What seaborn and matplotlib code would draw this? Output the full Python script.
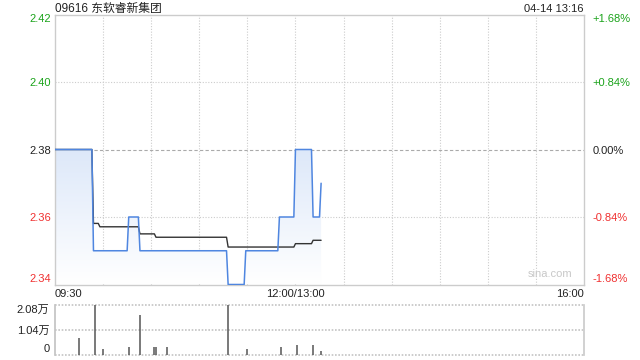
import numpy as np
import pandas as pd
import matplotlib
matplotlib.use("Agg")
import matplotlib.pyplot as plt
from matplotlib.colors import LinearSegmentedColormap
import seaborn as sns

# ---------------- data ----------------
title = "09616 东软睿新集团"
stamp = "04-14 13:16"
prev_close = 2.38

# minutes since 09:30 on a compressed axis (lunch 12:00-13:00 removed, 330 min total)
price_min = [0, 23, 24, 45, 46, 52, 53, 107, 108, 118, 119, 139, 140, 149, 150, 160, 161, 165, 166]
price_val = [2.38, 2.38, 2.35, 2.35, 2.36, 2.36, 2.35, 2.35, 2.34, 2.34, 2.35, 2.35,
             2.36, 2.36, 2.38, 2.38, 2.36, 2.36, 2.37]

avg_min = [0, 23, 24, 27, 28, 52, 53, 62, 63, 107, 108, 149, 150, 160, 161, 166]
avg_val = [2.38, 2.38, 2.3581, 2.3581, 2.3571, 2.3571, 2.3550, 2.3550, 2.3540, 2.3540,
           2.3511, 2.3511, 2.3521, 2.3521, 2.3531, 2.3531]

vol_min = [15, 25, 30, 46, 53, 62, 63, 70, 108, 120, 141, 151, 161, 166]
vol_val = [6900, 20800, 2250, 3100, 16700, 3100, 3100, 3100, 20800, 2250, 3100, 3950, 3950, 1400]

price_ticks = [2.34, 2.36, 2.38, 2.40, 2.42]
x_tick_pos = [0, 150, 330]
x_tick_labels = ["09:30", "12:00/13:00", "16:00"]
vol_ticks = [0, 10400, 20800]
vol_tick_labels = ["0", "1.04万", "2.08万"]

# ---------------- style ----------------
sns.set_theme(style="white")
plt.rcParams['font.family'] = ['Liberation Sans', 'Noto Sans CJK SC', 'DejaVu Sans']

UP = "#1aa31a"
DOWN = "#f03030"
GRID = "#cccccc"
LINE = "#4f86e0"

price_df = pd.DataFrame({"t": price_min, "p": price_val})
avg_df = pd.DataFrame({"t": avg_min, "p": avg_val})
vol_df = pd.DataFrame({"t": vol_min, "v": vol_val})

fig = plt.figure(figsize=(6.4, 3.6), dpi=100)
ax = fig.add_axes([55/640, 1-284.5/360, 529/640, 270/360])
axv = fig.add_axes([55/640, 1-354.5/360, 529/640, 49.5/360])

# ---- main price panel ----
ymin, ymax = price_ticks[0], price_ticks[-1]
poly = ax.fill_between(price_df["t"], price_df["p"], ymin, color="none", lw=0)
grad = np.linspace(1, 0, 256).reshape(-1, 1)
cmap = LinearSegmentedColormap.from_list("g", ["#ffffff", "#dde8f9"])
im = ax.imshow(grad, extent=[0, max(price_min), ymin, prev_close], aspect="auto",
               cmap=cmap, origin="upper", zorder=1, interpolation="bilinear")
im.set_clip_path(poly.get_paths()[0], transform=ax.transData)

for v in [2.36, 2.40]:
    ax.axhline(v, color=GRID, lw=0.8, ls=(0, (1, 1.5)), zorder=0.5)
ax.axhline(prev_close, color="#aaaaaa", lw=0.8, ls=(0, (3, 2)), zorder=0.5)
for xv in range(30, 330, 30):
    ax.axvline(xv, color=GRID, lw=0.8, ls=(0, (1, 1.5)), zorder=0.5)

sns.lineplot(data=avg_df, x="t", y="p", ax=ax, color="#333333", lw=1.0, zorder=3)
sns.lineplot(data=price_df, x="t", y="p", ax=ax, color=LINE, lw=1.1, zorder=4)

ax.set_xlim(0, 330)
ax.set_ylim(ymin, ymax)
ax.set_xlabel("")
ax.set_ylabel("")
ax.set_yticks(price_ticks)
ax.set_yticklabels([f"{v:.2f}" for v in price_ticks])
ylabs = ax.get_yticklabels()
for lab, v in zip(ylabs, price_ticks):
    lab.set_color(UP if v > prev_close + 1e-9 else (DOWN if v < prev_close - 1e-9 else "#222222"))
ylabs[0].set_va("bottom")
ylabs[-1].set_va("top")
ax.tick_params(axis="y", length=0, pad=3, labelsize=8)
ax.set_xticks(x_tick_pos)
ax.set_xticklabels(x_tick_labels)
ax.tick_params(axis="x", length=0, pad=3, labelsize=8, labelcolor="#222222")
xl = ax.get_xticklabels()
xl[0].set_ha("left")
xl[-1].set_ha("right")
for s in ax.spines.values():
    s.set_color(GRID)
    s.set_linewidth(1.0)

axr = ax.twinx()
axr.set_ylim(ymin, ymax)
axr.set_yticks(price_ticks)
pct = [(v - prev_close) / prev_close * 100 for v in price_ticks]
axr.set_yticklabels([("+" if p > 0.001 else "") + f"{p:.2f}%" if abs(p) > 0.001 else "0.00%" for p in pct])
rlabs = axr.get_yticklabels()
for lab, p in zip(rlabs, pct):
    lab.set_color(UP if p > 0.001 else (DOWN if p < -0.001 else "#222222"))
rlabs[0].set_va("bottom")
rlabs[-1].set_va("top")
axr.tick_params(axis="y", length=0, pad=6, labelsize=8)
axr.grid(False)
for s in axr.spines.values():
    s.set_visible(False)

ax.text(0.0, 1.011, title, transform=ax.transAxes, ha="left", va="baseline",
        fontsize=8.5, color="#222222")
ax.text(1.0, 1.011, stamp, transform=ax.transAxes, ha="right", va="baseline",
        fontsize=8, color="#222222")
ax.text(0.935, 0.02, "sina.com", transform=ax.transAxes, ha="center", va="bottom",
        fontsize=8, color="#c8c8c8")

# ---- volume panel ----
axv.vlines(vol_df["t"], 0, vol_df["v"], color="#555555", lw=1.1)
axv.set_xlim(0, 330)
axv.set_ylim(0, vol_ticks[-1])
for v in vol_ticks:
    axv.axhline(v, color="#c4c4c4", lw=1.2, ls=(0, (1, 1)), zorder=0.5, clip_on=False)
axv.set_yticks(vol_ticks)
axv.set_yticklabels(vol_tick_labels)
vlabs = axv.get_yticklabels()
vlabs[0].set_va("bottom")
vlabs[-1].set_va("top")
axv.tick_params(axis="y", length=0, pad=4, labelsize=8, labelcolor="#222222")
axv.set_xticks([])
axv.set_xlabel("")
axv.set_ylabel("")
for k, s in axv.spines.items():
    s.set_visible(False)
axv.spines["right"].set_visible(True)
axv.spines["right"].set_color(GRID)
axv.spines["left"].set_visible(True)
axv.spines["left"].set_color("#c4c4c4")
axv.spines["left"].set_linestyle((0, (1, 1)))

fig.savefig("out.png", dpi=100)
